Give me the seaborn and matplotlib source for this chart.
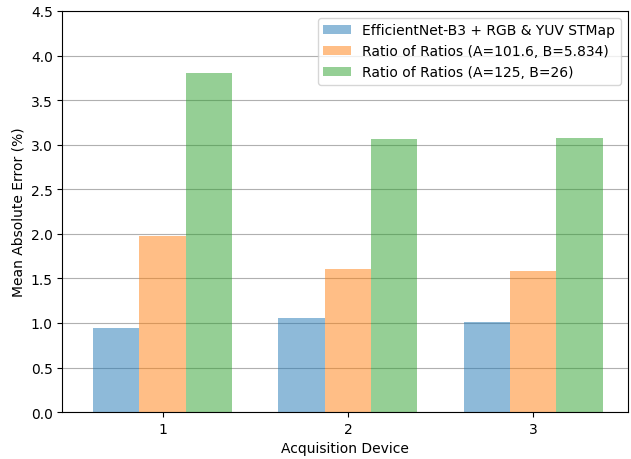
import numpy as np
import pandas as pd
import matplotlib.pyplot as plt
import seaborn as sns

devices = ["1", "2", "3"]
methods = ["EfficientNet-B3 + RGB & YUV STMap",
           "Ratio of Ratios (A=101.6, B=5.834)",
           "Ratio of Ratios (A=125, B=26)"]
effnet = [0.94, 1.06, 1.01]
ror_a = [1.98, 1.60, 1.58]
ror_b = [3.80, 3.06, 3.08]

df = pd.DataFrame({
    "Acquisition Device": devices * 3,
    "method": np.repeat(methods, 3),
    "mae": effnet + ror_a + ror_b,
})

fig, ax = plt.subplots(figsize=(6.31, 4.6), dpi=100)
fig.subplots_adjust(left=0.099, right=0.995, top=0.974, bottom=0.102)

sns.barplot(data=df, x="Acquisition Device", y="mae", hue="method",
            palette=["tab:blue", "tab:orange", "tab:green"], saturation=1,
            alpha=0.5, width=0.75, ax=ax)

ax.set_ylim(0, 4.5)
ax.set_yticks(np.arange(0, 4.51, 0.5))
ax.set_xlim(-0.54, 2.51)
ax.yaxis.grid(True, color="#b0b0b0", linewidth=0.8)
ax.set_axisbelow(True)
ax.set_xlabel("Acquisition Device")
ax.set_ylabel("Mean Absolute Error (%)")
handles, labels = ax.get_legend_handles_labels()
ax.legend(handles, labels, loc="upper right")

plt.savefig("out.png")
